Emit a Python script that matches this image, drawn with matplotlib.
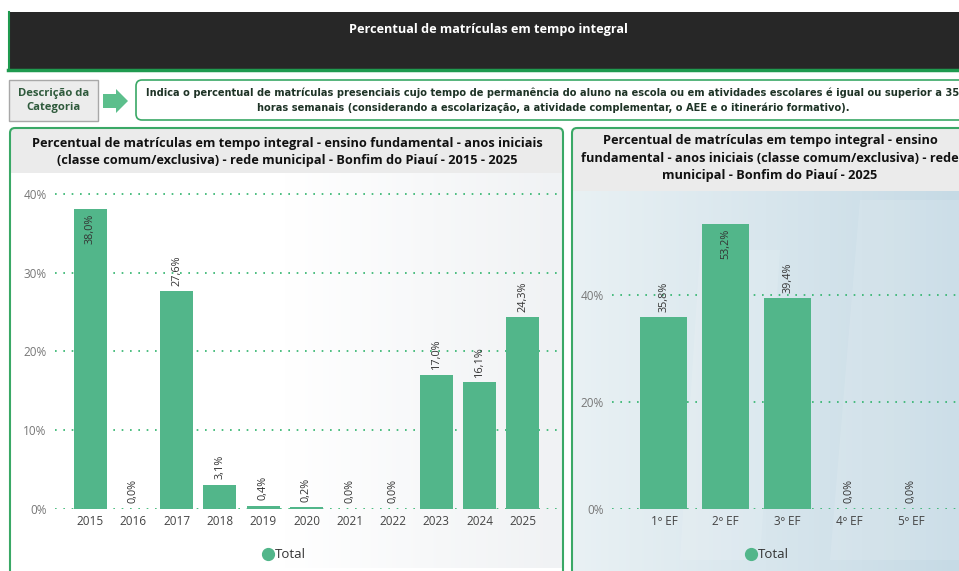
import numpy as np
import matplotlib
matplotlib.use("Agg")
import matplotlib.pyplot as plt
from matplotlib.patches import FancyBboxPatch, Rectangle, Polygon

# Data
anos = ["2015", "2016", "2017", "2018", "2019", "2020", "2021", "2022", "2023", "2024", "2025"]
pct_anos = [38.0, 0.0, 27.6, 3.1, 0.4, 0.2, 0.0, 0.0, 17.0, 16.1, 24.3]

series = ["1º EF", "2º EF", "3º EF", "4º EF", "5º EF"]
pct_series = [35.8, 53.2, 39.4, 0.0, 0.0]

titulo = "Percentual de matrículas em tempo integral"
desc_label = "Descrição da\nCategoria"
desc_text = ("Indica o percentual de matrículas presenciais cujo tempo de permanência do aluno na escola ou em atividades escolares é igual ou superior a 35\n"
             "horas semanais (considerando a escolarização, a atividade complementar, o AEE e o itinerário formativo).")
titulo_esq = ("Percentual de matrículas em tempo integral - ensino fundamental - anos iniciais\n"
              "(classe comum/exclusiva) - rede municipal - Bonfim do Piauí - 2015 - 2025")
titulo_dir = ("Percentual de matrículas em tempo integral - ensino\n"
              "fundamental - anos iniciais (classe comum/exclusiva) - rede\n"
              "municipal - Bonfim do Piauí - 2025")

W, H = 959, 571
GREEN = "#52b68a"
BORDER = "#3aa866"
plt.rcParams["font.family"] = ["Open Sans", "DejaVu Sans"]

fig = plt.figure(figsize=(W / 100, H / 100), dpi=100)
fig.patch.set_facecolor("white")


def rect(x0, y0, x1, y1):
    return [x0 / W, 1 - y1 / H, (x1 - x0) / W, (y1 - y0) / H]


# background layer in pixel coordinates
bg = fig.add_axes([0, 0, 1, 1], zorder=0)
bg.set_xlim(0, W)
bg.set_ylim(H, 0)
bg.axis("off")

# header
bg.add_patch(Rectangle((8, 12), 960, 58, facecolor="#272727", edgecolor="none"))
bg.plot([8, 959], [70, 70], color="#1f9a4f", lw=2.5)
bg.plot([9, 9], [12, 70], color="#1f9a4f", lw=1.5)
bg.text(488, 30, titulo, color="white", fontsize=9.1, fontweight="bold",
        ha="center", va="center")

# description label box
bg.add_patch(Rectangle((9, 80), 89, 41, facecolor="#ececec", edgecolor="#a8a8a8", lw=1))
bg.text(53.5, 100.5, desc_label, color="#2f5a3c", fontsize=8.1, fontweight="bold",
        ha="center", va="center", linespacing=1.3)
bg.add_patch(Polygon([(103, 94), (116, 94), (116, 89), (128, 101), (116, 113), (116, 108), (103, 108)],
                     closed=True, facecolor="#5cbf8c", edgecolor="none"))

# description box (text runs past the right edge, as in the dashboard)
bg.add_patch(FancyBboxPatch((136, 80), 840, 40, boxstyle="round,pad=0,rounding_size=6",
                            facecolor="white", edgecolor=BORDER, lw=1.2))
bg.text(553, 100, desc_text, color="#1e3326", fontsize=7.15, fontweight="bold",
        ha="center", va="center", linespacing=1.5, family="DejaVu Sans")

# left panel
grad = np.linspace(0, 1, 256).reshape(1, -1)
bg.imshow(grad, extent=(11, 562, 568, 129), cmap=matplotlib.colors.LinearSegmentedColormap.from_list(
    "l", ["#ffffff", "#ffffff", "#f0f2f4"]), aspect="auto", zorder=0.5)
bg.add_patch(FancyBboxPatch((10, 128), 553, 460, boxstyle="round,pad=0,rounding_size=5",
                            facecolor="none", edgecolor=BORDER, lw=1.5, zorder=2))
bg.add_patch(Rectangle((11, 129), 551, 44, facecolor="#ebebeb", edgecolor="none", zorder=1))
bg.text(287, 152, titulo_esq, color="#111111", fontsize=9.2, fontweight="bold",
        ha="center", va="center", linespacing=1.4, zorder=3)

# right panel
bg.imshow(np.linspace(0, 1, 256).reshape(1, -1), extent=(573, 959, 575, 129),
          cmap=matplotlib.colors.LinearSegmentedColormap.from_list("r", ["#e9f1f4", "#d8e6ed", "#c6dae5"]),
          aspect="auto", zorder=0.5)
for px in [(700, 250, 780, 250, 760, 560, 680, 560), (860, 200, 959, 200, 959, 560, 830, 560)]:
    bg.add_patch(Polygon(np.array(px).reshape(-1, 2), closed=True, facecolor="white", alpha=0.12,
                         edgecolor="none", zorder=0.6))
bg.add_patch(FancyBboxPatch((572, 128), 400, 460, boxstyle="round,pad=0,rounding_size=5",
                            facecolor="none", edgecolor=BORDER, lw=1.5, zorder=2))
bg.add_patch(Rectangle((573, 129), 390, 62, facecolor="#ebebeb", edgecolor="none", zorder=1))
bg.text(770, 158, titulo_dir, color="#111111", fontsize=9.2, fontweight="bold",
        ha="center", va="center", linespacing=1.42, zorder=3)


def draw_chart(ax, labels, values, ylim, yticks, label_inside_above):
    x = np.arange(len(labels))
    ax.bar(x, values, width=0.76, color=GREEN, zorder=2)
    ax.set_ylim(*ylim)
    ax.set_yticks(yticks)
    ax.set_yticklabels([f"{t}%" for t in yticks])
    ax.set_xticks(x)
    ax.set_xticklabels(labels)
    ax.tick_params(axis="both", length=0, colors="#444444", labelsize=8.5)
    ax.tick_params(axis="y", colors="#777777", pad=6)
    ax.tick_params(axis="x", pad=4)
    ax.grid(axis="y", color="#2eb36b", linestyle=(0, (1, 4)), lw=1.2, zorder=1)
    for s in ax.spines.values():
        s.set_visible(False)
    ax.set_facecolor("none")
    for xi, v in zip(x, values):
        txt = f"{v:.1f}%".replace(".", ",")
        if v >= label_inside_above:
            ax.annotate(txt, (xi, v), xytext=(0, -3), textcoords="offset points",
                        rotation=90, ha="center", va="top", fontsize=7.8, color="#333333", zorder=3)
        else:
            ax.annotate(txt, (xi, v), xytext=(0, 4), textcoords="offset points",
                        rotation=90, ha="center", va="bottom", fontsize=7.8, color="#333333", zorder=3)


# left chart
ax1 = fig.add_axes(rect(55, 185, 558, 509), zorder=1)
draw_chart(ax1, anos, pct_anos, (0, 41.1), [0, 10, 20, 30, 40], 35)
ax1.set_xlim(-0.81, 10.81)

# right chart
ax2 = fig.add_axes(rect(612, 190, 962, 509), zorder=1)
draw_chart(ax2, series, pct_series, (0, 59.6), [0, 20, 40], 50)
ax2.set_xlim(-0.84, 4.82)

# legends
for cx, cy in [(268, 554), (751, 554)]:
    bg.plot(cx, cy, "o", color=GREEN, markersize=8.5, zorder=3)
    bg.text(cx + 7, cy, "Total", fontsize=9.5, color="#333333", ha="left", va="center", zorder=3)

fig.savefig("out.png", dpi=100)
